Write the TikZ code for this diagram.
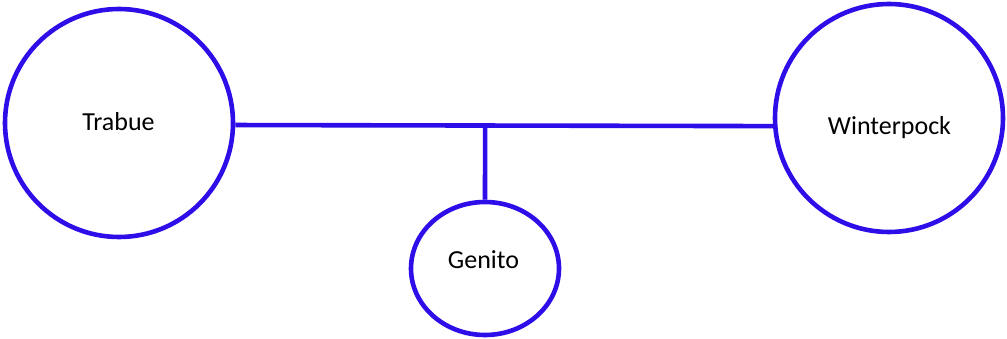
\documentclass[tikz,border=0pt]{standalone}
\usepackage{fontspec}
\setmainfont{Carlito}
\usetikzlibrary{shapes.geometric,calc}
\definecolor{edgeblue}{RGB}{46,14,232}
\begin{document}
\begin{tikzpicture}[x=1pt,y=-1pt,
  ring/.style={draw=edgeblue,line width=4.6pt,ellipse,inner sep=0pt},
  lbl/.style={font=\fontsize{26}{30}\selectfont,anchor=base,inner sep=0pt,text=black},
  link/.style={draw=edgeblue,line width=4.6pt}]
\useasboundingbox (0,0) rectangle (1007,339);
\node[ring,minimum width=228pt,minimum height=228pt] (T) at (119,123) {};
\node[ring,minimum width=228pt,minimum height=228pt] (W) at (889,118) {};
\node[ring,minimum width=148pt,minimum height=133pt] (G) at (485,268.5) {};
\node[lbl] (Tl) at (118.5,131) {Trabue};
\node[lbl] (Wl) at (889.5,135) {Winterpock};
\node[lbl] (Gl) at (483.5,269) {Genito};
\draw[link] (T.-1) -- (W.184);
\coordinate (J) at ($(T.-1)!(G.north)!(W.184)$);
\draw[link] (J) -- (G.north);
\end{tikzpicture}
\end{document}
